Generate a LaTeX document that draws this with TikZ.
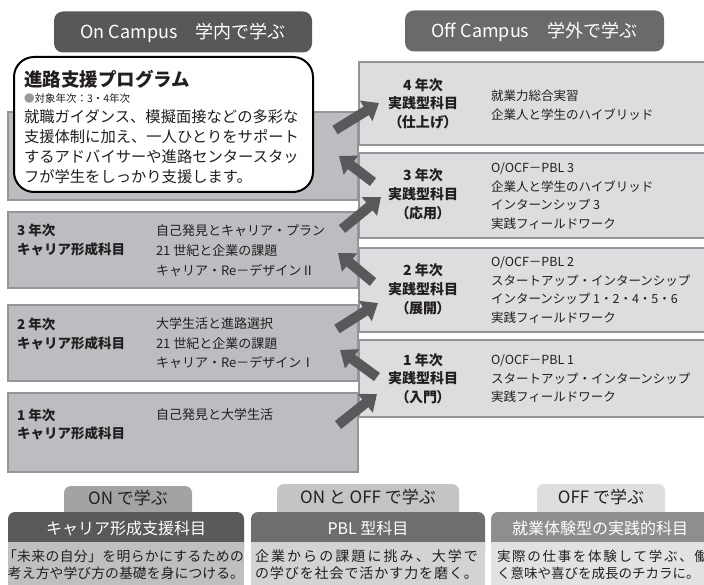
\documentclass[tikz,border=0pt]{standalone}
\usepackage{fontspec}
\setmainfont{Noto Sans CJK JP}
\usetikzlibrary{arrows.meta}
\definecolor{ink}{HTML}{231F20}
\definecolor{tabA}{HTML}{58585A}
\definecolor{tabB}{HTML}{6A6A6C}
\definecolor{lfill}{HTML}{BCBDC0}
\definecolor{rfill}{HTML}{DCDDDF}
\definecolor{edge}{HTML}{939598}
\definecolor{arrowc}{HTML}{58595B}
\definecolor{botTabA}{HTML}{A2A3A5}
\definecolor{botTabB}{HTML}{C3C4C6}
\definecolor{botTabC}{HTML}{DDDEE0}
\definecolor{botHeadA}{HTML}{58595B}
\definecolor{botHeadB}{HTML}{6D6E70}
\definecolor{botHeadC}{HTML}{8D8E90}
\definecolor{botAreaA}{HTML}{BEBFC1}
\definecolor{botAreaB}{HTML}{D2D3D5}
\definecolor{botAreaC}{HTML}{E1E2E4}
\definecolor{bulletc}{HTML}{9A9A9C}
\makeatletter
\def\jsp@end{}
\def\jspread#1#2{\hbox to #1{\jsp@#2\jsp@end}}
\def\jsp@#1{\ifx#1\jsp@end\else#1\expandafter\jsp@next\fi}
\def\jsp@next#1{\ifx#1\jsp@end\else\hfil#1\expandafter\jsp@next\fi}
\makeatother
\tikzset{
  box/.style={inner sep=0pt, outer sep=0pt, anchor=north west},
  lbox/.style={box, fill=lfill, draw=edge, line width=1.5pt, minimum width=350pt},
  rbox/.style={box, fill=rfill, draw=edge, line width=1.5pt, minimum width=362pt},
  toptab/.style={inner sep=0pt, outer sep=0pt, rounded corners=9pt, minimum height=41pt},
  tl/.style 2 args={inner sep=0pt, outer sep=0pt, anchor=north west, align=left, text=ink,
    font=\fontsize{#1}{#2}\selectfont, yshift={0.7*#2-0.38*#1}},
  tlb/.style 2 args={tl={#1}{#2}, font=\fontsize{#1}{#2}\selectfont\bfseries},
  tc/.style 2 args={tl={#1}{#2}, anchor=north, align=center},
  tcb/.style 2 args={tc={#1}{#2}, font=\fontsize{#1}{#2}\selectfont\bfseries},
  bigarrow/.style={draw=arrowc, line width=10pt, -{Triangle[length=15pt,width=23pt]}},
  bottab/.style={box, anchor=north, rounded corners=7pt, minimum height=40pt},
  bothead/.style={box, rounded corners=7pt, minimum height=45pt},
  botarea/.style={box, minimum height=60pt},
}
\begin{document}
\begin{tikzpicture}[x=1pt,y=-1pt]
\useasboundingbox (0,0) rectangle (704,585);
\fill[white] (0,0) rectangle (704,585);
\clip (0,0) rectangle (704,585);

% ---------- top tabs ----------
\node[toptab, fill=tabA, minimum width=258pt] (oncampus) at (183,32) {};
\node[tc={18}{22}, text=white] (oncampusT) at (183,32) {\strut On Campus　学内で学ぶ};
\node[toptab, fill=tabB, minimum width=259pt] (offcampus) at (534.5,31) {};
\node[tc={18}{22}, text=white] (offcampusT) at (534.5,31) {\strut Off Campus　学外で学ぶ};

% ---------- left column ----------
\node[lbox, minimum height=88pt] (L0) at (8,112) {};
\node[lbox, minimum height=76pt] (L3) at (8,212) {};
\node[lbox, minimum height=76pt] (L2) at (8,305) {};
\node[lbox, minimum height=79pt] (L1) at (8,393) {};

\node[tlb={13.5}{19.5}] (L3lab) at (17,230) {\strut 3 年次\\キャリア形成科目};
\node[tl={13}{19.8}] (L3txt) at (156,231) {\strut 自己発見とキャリア・プラン\\21 世紀と企業の課題\\キャリア・Re－デザインⅡ};
\node[tlb={13.5}{19.5}] (L2lab) at (17,324) {\strut 2 年次\\キャリア形成科目};
\node[tl={13}{19.2}] (L2txt) at (156,324) {\strut 大学生活と進路選択\\21 世紀と企業の課題\\キャリア・Re－デザインⅠ};
\node[tlb={13.5}{18.5}] (L1lab) at (17,415) {\strut 1 年次\\キャリア形成科目};
\node[tl={13}{19}] (L1txt) at (156,415) {\strut 自己発見と大学生活};

% ---------- right column ----------
\node[rbox, minimum height=83pt] (R4) at (359,62) {};
\node[rbox, minimum height=85pt] (R3) at (359,153) {};
\node[rbox, minimum height=84pt] (R2) at (359,248) {};
\node[rbox, minimum height=77pt] (R1) at (359,340) {};

\node[tcb={14}{18.6}] (R4lab) at (423,85) {\strut 4 年次\\実践型科目\\{\addfontfeature{RawFeature=+palt}（仕上げ）}};
\node[tl={12.5}{18.5}] (R4txt) at (491,96) {\strut 就業力総合実習\\企業人と学生のハイブリッド};
\node[tcb={14}{19}] (R3lab) at (423,175) {\strut 3 年次\\実践型科目\\{\addfontfeature{RawFeature=+palt}（応用）}};
\node[tl={12.5}{18.5}] (R3txt) at (491,168) {\strut O/OCF－PBL 3\\企業人と学生のハイブリッド\\インターンシップ 3\\実践フィールドワーク};
\node[tcb={14}{19}] (R2lab) at (423,270) {\strut 2 年次\\実践型科目\\{\addfontfeature{RawFeature=+palt}（展開）}};
\node[tl={12.5}{18.5}] (R2txt) at (491,262) {\strut O/OCF－PBL 2\\スタートアップ・インターンシップ\\インターンシップ 1・2・4・5・6\\実践フィールドワーク};
\node[tcb={14}{18.6}] (R1lab) at (423,360) {\strut 1 年次\\実践型科目\\{\addfontfeature{RawFeature=+palt}（入門）}};
\node[tl={12.5}{18.5}] (R1txt) at (491,360) {\strut O/OCF－PBL 1\\スタートアップ・インターンシップ\\実践フィールドワーク};

% ---------- program box ----------
\node[box, fill=white, draw=black, line width=2pt, rounded corners=20pt,
      minimum width=299pt, minimum height=135pt] (prog) at (14,57) {};
\node[tlb={18.5}{22}] (progTitle) at (24,79) {\strut 進路支援プログラム};
\node[tl={10.5}{13}] (progSub) at (24,99) {\strut{\color{bulletc}●}\jspread{92pt}{対象年次：3・4年次}};
\node[tl={15.3}{20}] (progBody) at (24,117) {\strut 就職ガイダンス、模擬面接などの多彩な\\支援体制に加え、一人ひとりをサポート\\するアドバイサーや進路センタースタッ\\フが学生をしっかり支援します。};

% ---------- arrows ----------
\coordinate (a1s) at (335,130); \coordinate (a1e) at (379,103);
\coordinate (a2s) at (373,182); \coordinate (a2e) at (339,156);
\coordinate (a3s) at (342,229); \coordinate (a3e) at (381,197);
\coordinate (a4s) at (373,282); \coordinate (a4e) at (338,253);
\coordinate (a5s) at (337,329); \coordinate (a5e) at (378,303);
\coordinate (a6s) at (377,377); \coordinate (a6e) at (340,350);
\coordinate (a7s) at (338,425); \coordinate (a7e) at (377,394);
\draw[bigarrow] (a1s) -- (a1e);
\draw[bigarrow] (a2s) -- (a2e);
\draw[bigarrow] (a3s) -- (a3e);
\draw[bigarrow] (a4s) -- (a4e);
\draw[bigarrow] (a5s) -- (a5e);
\draw[bigarrow] (a6s) -- (a6e);
\draw[bigarrow] (a7s) -- (a7e);

% ---------- bottom ----------
\node[bottab, fill=botTabA, minimum width=128pt] (tab1) at (128,486) {};
\node[bottab, fill=botTabB, minimum width=182pt] (tab2) at (368,484) {};
\node[bottab, fill=botTabC, minimum width=128pt] (tab3) at (601,484) {};
\node[tc={17}{20}] (tab1T) at (128,498) {\strut ON で学ぶ};
\node[tc={17}{20}] (tab2T) at (368,497) {\strut ON と OFF で学ぶ};
\node[tc={17}{20}] (tab3T) at (601,497) {\strut OFF で学ぶ};

\node[bothead, fill=botHeadA, minimum width=236pt] (head1) at (8,512) {};
\node[bothead, fill=botHeadB, minimum width=234pt] (head2) at (251,512) {};
\node[bothead, fill=botHeadC, minimum width=230pt] (head3) at (491,512) {};
\node[tc={16}{20}, text=white] (head1T) at (126,528) {\strut キャリア形成支援科目};
\node[tc={16}{20}, text=white] (head2T) at (368,528) {\strut PBL 型科目};
\node[tc={16}{20}, text=white] (head3T) at (600,528) {\strut 就業体験型の実践的科目};

\node[botarea, fill=botAreaA, minimum width=236pt] (area1) at (8,542) {};
\node[botarea, fill=botAreaB, minimum width=234pt] (area2) at (251,542) {};
\node[botarea, fill=botAreaC, minimum width=230pt] (area3) at (491,542) {};
\node[tl={13.8}{17}] (area1T) at (8,556) {\strut\hskip-5pt\jspread{241pt}{「未来の自分」を明らかにするための}\\\strut\jspread{236pt}{考え方や学び方の基礎を身につける。}};
\node[tl={14}{17}] (area2T) at (255,556) {\strut\jspread{223pt}{企業からの課題に挑み、大学で}\\\strut\jspread{223pt}{の学びを社会で活かす力を磨く。}};
\node[tl={13.5}{17}] (area3T) at (497,556) {\strut\jspread{211pt}{実際の仕事を体験して学ぶ、働}\\\strut く意味や喜びを成長のチカラに。};
\end{tikzpicture}
\end{document}
